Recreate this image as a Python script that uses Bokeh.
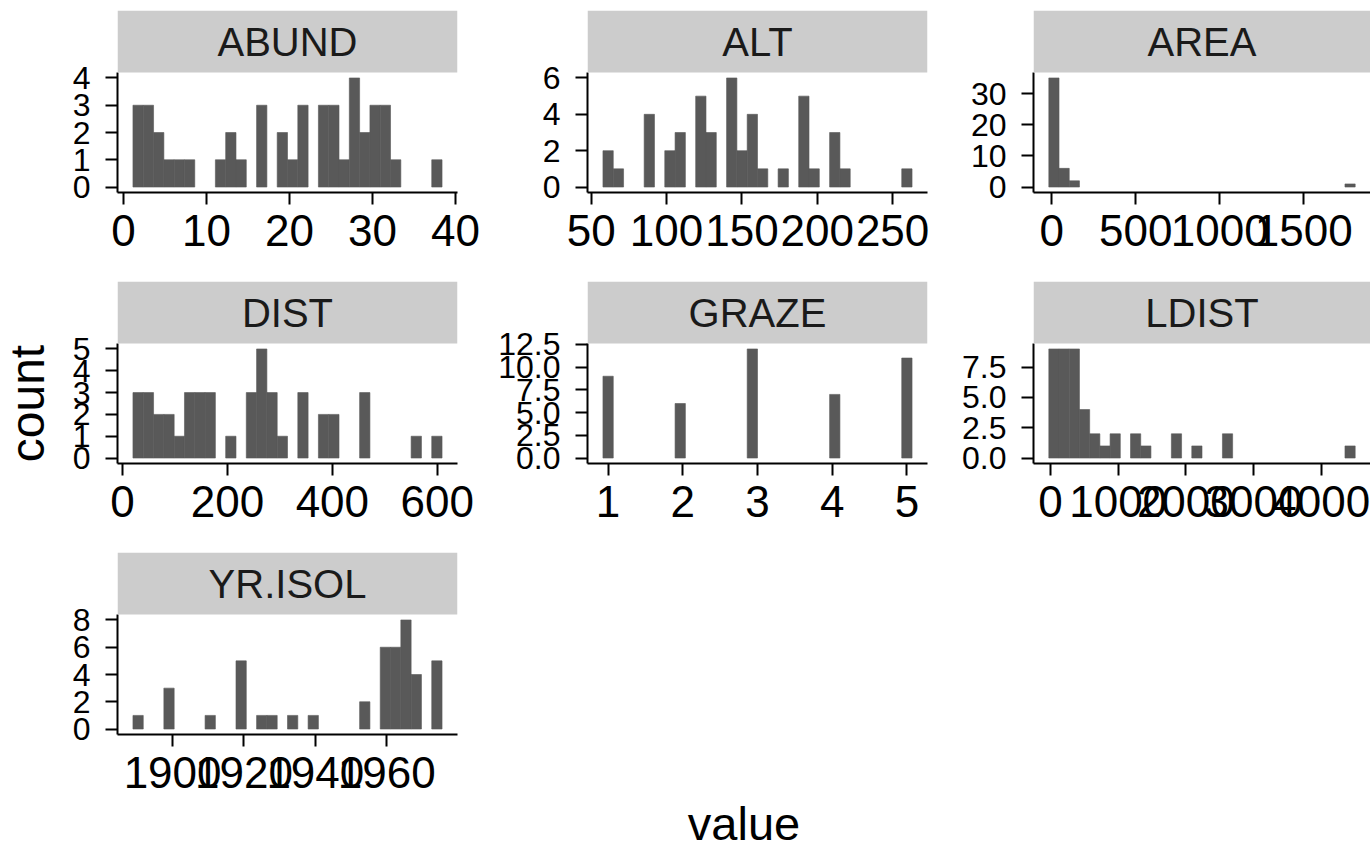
import math
from bokeh.plotting import figure
from bokeh.layouts import row, column
from bokeh.models import (Range1d, FixedTicker, BoxAnnotation, Label, ColumnDataSource,
                          PrintfTickFormatter)
from bokeh.embed import file_html
from bokeh.resources import INLINE
from bokeh.core.properties import value

FONT = "Liberation Sans"
BAR_COLOR = "#595959"
STRIP_COLOR = "#cccccc"

# ---------------- data (30-bin histograms) ----------------
variables = ["ABUND", "ALT", "AREA", "DIST", "GRAZE", "LDIST", "YR.ISOL"]

abund_start, abund_width = 1.13, 1.242
abund_counts = [3, 3, 2, 1, 1, 1, 0, 0, 1, 2, 1, 0, 3, 0, 2, 1, 3, 0, 3, 3, 1, 4, 2, 3, 3, 1, 0, 0, 0, 1]
abund_xticks = [0, 10, 20, 30, 40]
abund_yticks = [0, 1, 2, 3, 4]

alt_start, alt_width = 57.8, 6.837
alt_counts = [2, 1, 0, 0, 4, 0, 2, 3, 0, 5, 3, 0, 6, 2, 4, 1, 0, 1, 0, 5, 1, 0, 3, 1, 0, 0, 0, 0, 0, 1]
alt_xticks = [50, 100, 150, 200, 250]
alt_yticks = [0, 2, 4, 6]

area_start, area_width = -18.0, 60.8
area_counts = [35, 6, 2, 0, 0, 0, 0, 0, 0, 0, 0, 0, 0, 0, 0, 0, 0, 0, 0, 0, 0, 0, 0, 0, 0, 0, 0, 0, 0, 1]
area_xticks = [0, 500, 1000, 1500]
area_yticks = [0, 10, 20, 30]

dist_start, dist_width = 19.9, 19.64
dist_counts = [3, 3, 2, 2, 1, 3, 3, 3, 0, 1, 0, 3, 5, 3, 1, 0, 3, 0, 2, 2, 0, 0, 3, 0, 0, 0, 0, 1, 0, 1]
dist_xticks = [0, 200, 400, 600]
dist_yticks = [0, 1, 2, 3, 4, 5]

graze_start, graze_width = 0.931, 0.1379
graze_counts = [9, 0, 0, 0, 0, 0, 0, 6, 0, 0, 0, 0, 0, 0, 12, 0, 0, 0, 0, 0, 0, 0, 7, 0, 0, 0, 0, 0, 0, 11]
graze_xticks = [1, 2, 3, 4, 5]
graze_yticks = [0, 2.5, 5, 7.5, 10, 12.5]

ldist_start, ldist_width = -24.6, 150.9
ldist_counts = [9, 9, 9, 4, 2, 1, 2, 0, 2, 1, 0, 0, 2, 0, 1, 0, 0, 2, 0, 0, 0, 0, 0, 0, 0, 0, 0, 0, 0, 1]
ldist_xticks = [0, 1000, 2000, 3000, 4000]
ldist_yticks = [0, 2.5, 5, 7.5]

yr_start, yr_width = 1888.9, 2.887
yr_counts = [1, 0, 0, 3, 0, 0, 0, 1, 0, 0, 5, 0, 1, 1, 0, 1, 0, 1, 0, 0, 0, 0, 2, 0, 6, 6, 8, 4, 0, 5]
yr_xticks = [1900, 1920, 1940, 1960]
yr_yticks = [0, 2, 4, 6, 8]

x_title = "value"
y_title = "count"

# ---------------- layout constants ----------------
PANEL_H = 120
STRIP_H = 62
COUNT_W = 60
PAGE_W, PAGE_H = 1370, 851


def make_panel(name, start, width, counts, xticks, yticks,
               left, frame_w, right, top, bottom):
    n = len(counts)
    span = n * width
    x0 = start - 0.05 * span
    x1 = start + span + 0.05 * span
    ymax = max(counts)
    y0 = -0.05 * ymax
    ytop = 1.05 * ymax
    upp = (ytop - y0) / PANEL_H
    y1 = ytop + STRIP_H * upp
    h = top + STRIP_H + PANEL_H + bottom
    p = figure(width=left + frame_w + right, height=h,
               x_range=Range1d(x0, x1), y_range=Range1d(y0, y1),
               toolbar_location=None, output_backend="svg",
               min_border_left=left, min_border_right=right,
               min_border_top=top, min_border_bottom=bottom)
    p.outline_line_color = None
    p.grid.visible = False
    p.background_fill_color = "white"
    p.border_fill_color = "white"

    idx = [i for i in range(n) if counts[i] > 0]
    src = ColumnDataSource(dict(
        left=[start + i * width for i in idx],
        right=[start + (i + 1) * width for i in idx],
        top=[counts[i] for i in idx],
        bottom=[0] * len(idx)))
    p.quad(left="left", right="right", top="top", bottom="bottom", source=src,
           fill_color=BAR_COLOR, line_color=BAR_COLOR, line_width=0.6)

    strip = BoxAnnotation(left=x0, right=x1, bottom=ytop, top=y1,
                          fill_color=STRIP_COLOR, fill_alpha=1.0, line_color=None)
    p.add_layout(strip)
    lab = Label(x=(x0 + x1) / 2, y=(ytop + y1) / 2, text=name,
                text_align="center", text_baseline="middle",
                text_font=FONT, text_font_size="40px", text_color="#1a1a1a")
    p.add_layout(lab)

    for ax in (p.xaxis, p.yaxis):
        ax.axis_line_color = "black"
        ax.axis_line_width = 2
        ax.major_tick_line_color = "black"
        ax.major_tick_line_width = 2
        ax.major_tick_out = 12
        ax.major_tick_in = 0
        ax.minor_tick_line_color = None
        ax.major_label_text_font = FONT
        ax.major_label_text_color = "black"
    p.xaxis.ticker = FixedTicker(ticks=xticks)
    p.yaxis.ticker = FixedTicker(ticks=yticks)
    if any(float(t) != int(t) for t in yticks):
        p.yaxis.formatter = PrintfTickFormatter(format="%.1f")
    p.xaxis.major_label_text_font_size = "44px"
    p.yaxis.major_label_text_font_size = "32px"
    p.xaxis.major_label_standoff = 10
    p.yaxis.major_label_standoff = 15
    p.yaxis.bounds = (y0, ytop)
    return p


def blank(w, h):
    f = figure(width=w, height=h, x_range=Range1d(0, w), y_range=Range1d(0, h),
               toolbar_location=None, output_backend="svg", min_border=0,
               x_axis_type=None, y_axis_type=None)
    f.outline_line_color = None
    f.grid.visible = False
    f.frame_align = False
    return f


# columns: (left border, frame width, right border)
cols = [(57, 340, 30), (100, 340, 20), (86, 337, 0)]
specs = [
    ("ABUND", abund_start, abund_width, abund_counts, abund_xticks, abund_yticks),
    ("ALT", alt_start, alt_width, alt_counts, alt_xticks, alt_yticks),
    ("AREA", area_start, area_width, area_counts, area_xticks, area_yticks),
    ("DIST", dist_start, dist_width, dist_counts, dist_xticks, dist_yticks),
    ("GRAZE", graze_start, graze_width, graze_counts, graze_xticks, graze_yticks),
    ("LDIST", ldist_start, ldist_width, ldist_counts, ldist_xticks, ldist_yticks),
    ("YR.ISOL", yr_start, yr_width, yr_counts, yr_xticks, yr_yticks),
]
row_tops = [10, 0, 0]
row1_h = 10 + STRIP_H + PANEL_H + 89
row2_h = STRIP_H + PANEL_H + 89
row3_h = PAGE_H - row1_h - row2_h
row_bottoms = [89, 89, row3_h - STRIP_H - PANEL_H]

frame_left_page = COUNT_W + cols[0][0]
panel_center_x = (frame_left_page + PAGE_W) / 2
row3_frame_bottom = row1_h + row2_h + STRIP_H + PANEL_H

rows = []
for r in range(3):
    figs = []
    for c in range(3):
        k = r * 3 + c
        if k >= len(specs):
            break
        name, s, w, cnt, xt, yt = specs[k]
        l, fw, rr = cols[c]
        t, b = row_tops[r], row_bottoms[r]
        figs.append(make_panel(name, s, w, cnt, xt, yt, l, fw, rr, t, b))
    if r == 2:
        # empty area right of the last panel carries the shared x title
        used_w = COUNT_W + sum(cols[0])
        vf = blank(PAGE_W - used_w, row3_h)
        vf.text(x=[panel_center_x - used_w], y=[PAGE_H - 823], text=[x_title],
                text_align="center", text_baseline="middle",
                text_font=value(FONT), text_font_size="47px", text_color="black")
        figs.append(vf)
    rows.append(row(*figs))

cf = blank(COUNT_W, PAGE_H)
panels_mid = PAGE_H - (10 + STRIP_H + row3_frame_bottom) / 2
cf.text(x=[27], y=[panels_mid], text=[y_title], angle=math.pi / 2, text_align="center",
        text_baseline="middle", text_font=value(FONT), text_font_size="48px", text_color="black")

layout = row(cf, column(*rows))

open("out.html", "w").write(file_html(layout, INLINE))
